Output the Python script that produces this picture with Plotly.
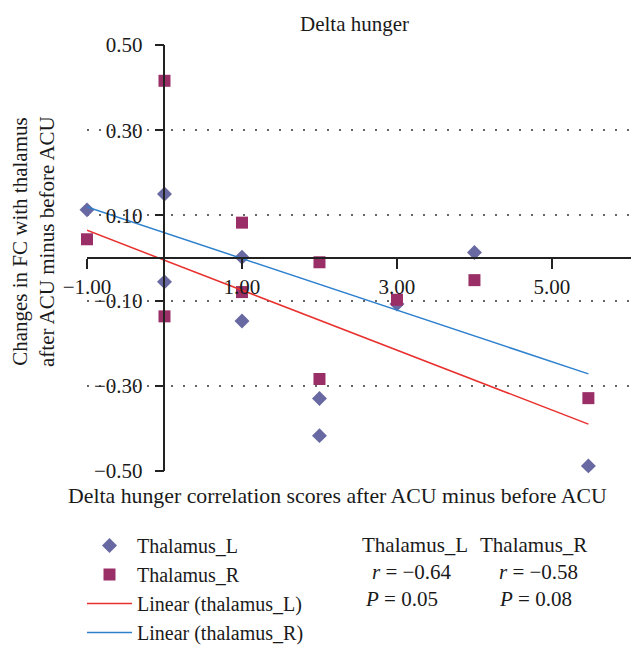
import plotly.graph_objects as go

title = "Delta hunger"
x_title = "Delta hunger correlation scores after ACU minus before ACU"
y_title = ["Changes in FC with thalamus", "after ACU minus before ACU"]

# scatter points
score_l = [-1, 0, 0, 1, 1, 2, 2, 3, 4, 5.47]
fc_l = [0.113, 0.150, -0.056, 0.002, -0.148, -0.330, -0.417, -0.108, 0.013, -0.488]
score_r = [-1, 0, 0, 1, 1, 2, 2, 3, 4, 5.47]
fc_r = [0.044, 0.416, -0.137, 0.083, -0.080, -0.010, -0.284, -0.098, -0.052, -0.329]

# linear trendlines (end points)
fit_x = [-1, 5.47]
fit_l = [0.065, -0.390]
fit_r = [0.120, -0.272]

x_ticks = [-1, 1, 3, 5]
y_ticks = [-0.5, -0.3, -0.1, 0.1, 0.3, 0.5]

stat_names = ["Thalamus_L", "Thalamus_R"]
stat_r = ["−0.64", "−0.58"]
stat_p = ["0.05", "0.08"]

FONT = "Liberation Serif"
FS = 21
OFF = 8  # page body margin
W, H = 641 - OFF, 651 - OFF
L, R, T, B = 79, 10, 37, 180
x_range = [-1, 6.02]


def px(x, y):
    """screen pixel -> paper coords"""
    x, y = x - OFF, y - OFF
    return (x - L) / (W - L - R), (H - B - y) / (H - T - B)


fig = go.Figure()
fig.add_trace(go.Scatter(
    x=score_l, y=fc_l, mode="markers", name="Thalamus_L", cliponaxis=False,
    marker=dict(symbol="diamond", size=11.5, color="#6868a2"),
))
fig.add_trace(go.Scatter(
    x=score_r, y=fc_r, mode="markers", name="Thalamus_R", cliponaxis=False,
    marker=dict(symbol="square", size=12, color="#9a2e66"),
))
fig.add_trace(go.Scatter(
    x=fit_x, y=fit_l, mode="lines", name="Linear (thalamus_L)", cliponaxis=False,
    line=dict(color="#e8302e", width=1.5),
))
fig.add_trace(go.Scatter(
    x=fit_x, y=fit_r, mode="lines", name="Linear (thalamus_R)", cliponaxis=False,
    line=dict(color="#2e80cc", width=1.5),
))

y_axis_pos = (0 - x_range[0]) / (x_range[1] - x_range[0])

fig.update_layout(
    width=W, height=H,
    margin=dict(l=L, r=R, t=T, b=B, autoexpand=False),
    paper_bgcolor="white", plot_bgcolor="white",
    font=dict(family=FONT, size=FS, color="#1a1a1a"),
    showlegend=True,
    legend=dict(
        x=px(82, 0)[0], y=px(0, 526)[1], xanchor="left", yanchor="top",
        font=dict(family=FONT, size=20), itemwidth=45, bgcolor="rgba(0,0,0,0)",
    ),
    xaxis=dict(
        range=x_range, anchor="free", position=0.5,
        showline=True, linecolor="#222", linewidth=1.5,
        ticks="outside", ticklen=10, tickwidth=1.5, tickcolor="#222",
        tickvals=x_ticks, tickformat=".2f", ticklabelstandoff=0,
        showgrid=False, zeroline=False,
    ),
    yaxis=dict(
        range=[-0.5, 0.5], anchor="free", position=y_axis_pos,
        showline=True, linecolor="#222", linewidth=1.5,
        ticks="outside", ticklen=9, tickwidth=1.5, tickcolor="#222",
        tickvals=y_ticks, tickformat=".2f", ticklabelstandoff=8,
        showgrid=True, gridcolor="#666", gridwidth=1.5, griddash="1.5px,10.5px",
        zeroline=False,
    ),
)

ann = []
tx, ty = px(354, 24)
ann.append(dict(x=tx, y=ty, text=title, showarrow=False))
tx, ty = px(337, 496)
ann.append(dict(x=tx, y=ty, text=x_title, showarrow=False, size=21.8))
tx, ty = px(33, 242)
ann.append(dict(x=tx, y=ty, text="<br>".join(y_title), textangle=-90,
                showarrow=False))

for i, name in enumerate(stat_names):
    x0 = [360, 478][i]
    x1 = [370, 497][i]
    for text, xp, yp in [
        (name, x0, 545),
        (f"<i>r</i> = {stat_r[i]}", x1, 572),
        (f"<i>P</i> = {stat_p[i]}", x1 - 7 if i == 0 else x1, 599),
    ]:
        ax, ay = px(xp, yp)
        ann.append(dict(x=ax, y=ay, text=text, showarrow=False,
                        xanchor="left", yanchor="middle"))

for a in ann:
    size = a.pop("size", FS)
    a.update(xref="paper", yref="paper", font=dict(family=FONT, size=size))
    a.setdefault("xanchor", "center")
    a.setdefault("yanchor", "middle")
fig.update_layout(annotations=ann)

fig.write_html("out.html")
